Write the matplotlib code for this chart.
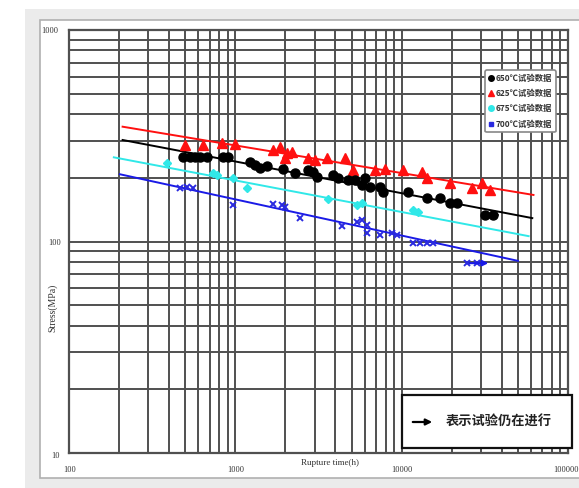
import matplotlib
matplotlib.use('Agg')
import matplotlib.pyplot as plt
import matplotlib.patches as patches
from matplotlib.ticker import LogLocator, NullFormatter
from matplotlib.lines import Line2D

W, H = 579, 488

# test data: rupture time (h) and stress (MPa)
t625 = [497, 638, 830, 993, 1679, 1850, 1982, 2038, 2184, 2724, 3000, 3545, 4547, 5076,
        6884, 7906, 10140, 13190, 14130, 19410, 26300, 30200, 33790]
s625 = [286, 286, 292, 289, 271, 280, 248, 262, 265, 248, 243, 248, 248, 218,
        218, 220, 218, 213, 200, 189, 179, 189, 175]

t650 = [484, 533, 571, 612, 674, 841, 902, 1222, 1310, 1403, 1545, 1928, 2277, 2724, 2920,
        3085, 3851, 4127, 4740, 5222, 5753, 5997, 6426, 7378, 7690, 10870, 14130, 16900,
        19410, 21380]
s650 = [251, 251, 251, 251, 251, 251, 251, 238, 230, 222, 228, 220, 211, 218, 213,
        202, 206, 200, 195, 195, 185, 200, 181, 181, 171, 171, 161, 161,
        152, 152]
t650_run = [31480, 35200]
s650_run = [133.5, 133.5]
t650_arrow_end = 40500

t675 = [388, 733, 774, 966, 1172, 3594, 5368, 5753, 11650, 12480]
s675 = [235, 211, 206, 200, 179, 159, 149, 152, 141, 138]

t700 = [464, 511, 555, 966, 1679, 1902, 1982, 2440, 4362, 5368, 5753, 6165, 6165, 7378,
        8709, 9333, 11650, 12830, 14130, 15350]
s700 = [179, 181, 179, 149, 150, 149, 146, 129, 118, 124, 126, 120, 110, 107,
        110, 107, 98, 98, 98, 98]
t700_run = [24550, 28180]
s700_run = [79, 79]
t700_arrow_end = 34500

# fitted master lines (end points)
fit625_t, fit625_s = [210, 62000], [349, 166]
fit650_t, fit650_s = [210, 61000], [302, 129]
fit675_t, fit675_s = [186, 58000], [250, 106]
fit700_t, fit700_s = [202, 50000], [208, 81]

legend_labels = ['650℃试验数据', '625℃试验数据', '675℃试验数据', '700℃试验数据']
x_ticks = [100, 1000, 10000, 100000]
y_ticks = [10, 100, 1000]

cjk = ['Noto Sans CJK SC', 'DejaVu Sans']
serif = 'Liberation Serif'
grid_col = '#505050'


def fx(x):
    return x / W


def fy(y):
    return 1 - y / H


fig = plt.figure(figsize=(W / 100, H / 100), dpi=100)
fig.patch.set_facecolor('white')

# page background and chart area
fig.add_artist(patches.Rectangle((fx(25), 0), 1 - fx(25), fy(9), transform=fig.transFigure,
                                 facecolor='#ebebeb', edgecolor='none', zorder=-3))
fig.add_artist(patches.Rectangle((fx(40), fy(478)), 1.0, fy(20) - fy(478), transform=fig.transFigure,
                                 facecolor='white', edgecolor='#b0b0b0', linewidth=1.2, zorder=-2))

ax = fig.add_axes([fx(69), fy(453), fx(568) - fx(69), fy(30) - fy(453)])
ax.set_xscale('log')
ax.set_yscale('log')
ax.set_xlim(100, 100000)
ax.set_ylim(10, 1000)
for axis in (ax.xaxis, ax.yaxis):
    axis.set_major_locator(LogLocator(base=10))
    axis.set_minor_locator(LogLocator(base=10, subs=range(2, 10), numticks=20))
    axis.set_major_formatter(NullFormatter())
    axis.set_minor_formatter(NullFormatter())
ax.tick_params(which='both', length=0)
ax.grid(which='both', color=grid_col, linewidth=1.4)
ax.set_axisbelow(True)
for spine in ax.spines.values():
    spine.set_color(grid_col)
    spine.set_linewidth(1.6)

# fit lines
ax.plot(fit625_t, fit625_s, color='#ff1010', lw=1.4, zorder=3)
ax.plot(fit650_t, fit650_s, color='black', lw=1.4, zorder=3)
ax.plot(fit675_t, fit675_s, color='#30e8e8', lw=1.4, zorder=3)
ax.plot(fit700_t, fit700_s, color='#1a1ae6', lw=1.4, zorder=3)

# test points
ax.plot(t625, s625, ls='none', marker='^', ms=6.5, color='#ff1010', zorder=4)
ax.plot(t650, s650, ls='none', marker='o', ms=6.5, color='black', zorder=4)
ax.plot(t650_run, s650_run, ls='none', marker='o', ms=6.5, color='black', zorder=4)
ax.plot(t675, s675, ls='none', marker='D', ms=4.5, color='#30e8e8', zorder=4)
ax.plot(t700, s700, ls='none', marker='x', ms=5, mew=1.4, color='#2a2ae0', zorder=4)
ax.plot(t700_run, s700_run, ls='none', marker='x', ms=5, mew=1.4, color='#2a2ae0', zorder=4)

# running tests
ax.annotate('', xy=(t650_arrow_end, s650_run[0]), xytext=(t650_run[0], s650_run[0]),
            arrowprops=dict(arrowstyle='-|>', color='black', lw=1.5, mutation_scale=8), zorder=5)
ax.annotate('', xy=(t700_arrow_end, s700_run[0]), xytext=(t700_run[0], s700_run[0]),
            arrowprops=dict(arrowstyle='-|>', color='#1a1ae6', lw=1.5, mutation_scale=8), zorder=5)

# legend
handles = [
    Line2D([], [], ls='none', marker='o', ms=4, color='black'),
    Line2D([], [], ls='none', marker='^', ms=4.5, color='#ff1010'),
    Line2D([], [], ls='none', marker='o', ms=4, color='#30e8e8'),
    Line2D([], [], ls='none', marker='s', ms=3, color='#2a2ae0'),
]
leg = ax.legend(handles, legend_labels, loc='upper left',
                bbox_to_anchor=(fx(485), fy(70)), bbox_transform=fig.transFigure,
                prop={'family': cjk, 'size': 6, 'weight': 'bold'},
                handlelength=0.5, handletextpad=0.3, borderpad=0.45, labelspacing=0.75,
                borderaxespad=0, frameon=True, fancybox=True, framealpha=1)
leg.get_frame().set_edgecolor('#888888')
leg.get_frame().set_linewidth(1.2)
for txt in leg.get_texts():
    txt.set_color('#333333')
leg.set_zorder(6)

# box explaining the arrow
fig.add_artist(patches.Rectangle((fx(402), fy(448)), fx(572) - fx(402), fy(395) - fy(448),
                                 transform=fig.transFigure, facecolor='white',
                                 edgecolor='#111111', linewidth=1.6, zorder=7))
fig.add_artist(patches.FancyArrowPatch((fx(410), fy(422)), (fx(435), fy(422)),
                                       transform=fig.transFigure, arrowstyle='-|>',
                                       mutation_scale=9, color='black', lw=1.6, zorder=8))
fig.text(fx(446), fy(422), '表示试验仍在进行', family=cjk, fontsize=9.5, fontweight='bold',
         ha='left', va='center', color='#222222', zorder=8)

# tick labels and axis titles
x_lab_px = [70, 236, 402, 566]
for val, xp in zip(x_ticks, x_lab_px):
    fig.text(fx(xp), fy(470), str(val), family=serif, fontsize=6, ha='center', va='center', color='#333333')
y_lab_px = [(56, 456), (55, 243), (50, 31)]
for val, (xp, yp) in zip(y_ticks, y_lab_px):
    fig.text(fx(xp), fy(yp), str(val), family=serif, fontsize=6, ha='center', va='center', color='#333333')
fig.text(fx(330), fy(463), 'Rupture time(h)', family=serif, fontsize=6.5, ha='center', va='center', color='#333333')
fig.text(fx(53), fy(308), 'Stress(MPa)', family=serif, fontsize=7, rotation=90,
         ha='center', va='center', color='#333333')

fig.savefig('out.png', dpi=100)
